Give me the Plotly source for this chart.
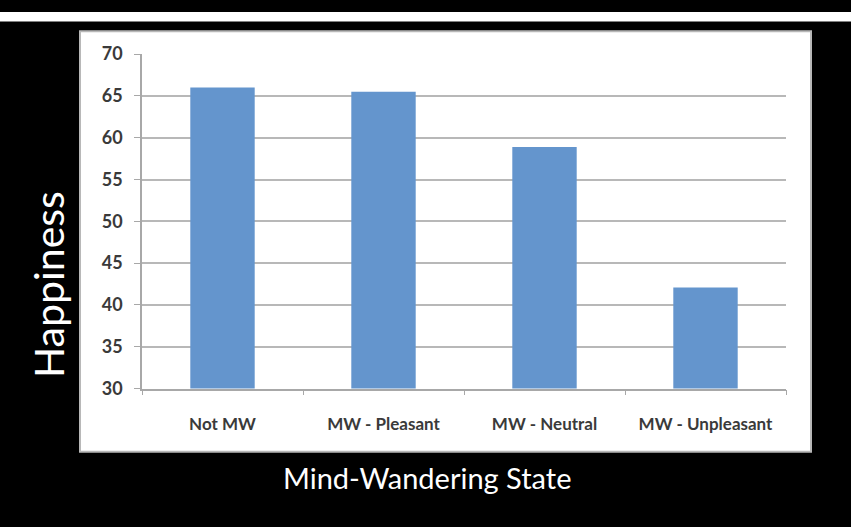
import plotly.graph_objects as go

categories = ["Not MW", "MW - Pleasant", "MW - Neutral", "MW - Unpleasant"]
happiness = [66.0, 65.5, 58.9, 42.1]
y_ticks = [30, 35, 40, 45, 50, 55, 60, 65, 70]

W, H = 851, 527

def px(x):
    return x / W

def py(y):
    return (H - y) / H

fig = go.Figure(go.Bar(
    x=categories, y=happiness,
    marker=dict(color="#6495cd", line=dict(width=0)),
    width=0.4,
))

shapes = [
    # thin white strip at the top edge of the screenshot
    dict(type="rect", xref="paper", yref="paper", x0=0, x1=1, y0=py(10), y1=1,
         fillcolor="white", line=dict(width=0), layer="below"),
    # white chart panel
    dict(type="rect", xref="paper", yref="paper", x0=px(80), x1=px(811), y0=py(459), y1=py(20),
         fillcolor="white", line=dict(color="#b8b8b8", width=2), layer="below"),
]

fig.update_layout(
    width=W, height=H,
    margin=dict(l=0, r=0, t=0, b=0),
    paper_bgcolor="black",
    plot_bgcolor="white",
    showlegend=False,
    bargap=0.6,
    shapes=shapes,
    xaxis=dict(
        domain=[px(142), px(786)],
        type="category",
        showgrid=False,
        showline=True, linecolor="#a8a8a8", linewidth=1.5,
        ticks="outside", ticklen=5, tickcolor="#a8a8a8", tickwidth=1,
        tickson="boundaries",
        tickfont=dict(family="Lato", size=17, color="#3a3a3a", weight="bold"),
        ticklabelstandoff=19,
    ),
    yaxis=dict(
        domain=[py(393), py(44)],
        range=[30, 70],
        tickvals=y_ticks,
        showgrid=True, gridcolor="#b8b8b8", gridwidth=1.5,
        showline=True, linecolor="#a8a8a8", linewidth=1.5,
        ticks="outside", ticklen=6, tickcolor="#a8a8a8", tickwidth=1,
        tickfont=dict(family="Lato", size=18, color="#3a3a3a", weight="bold"),
        ticklabelstandoff=8,
        zeroline=False,
    ),
    annotations=[
        dict(text="Happiness", xref="paper", yref="paper", x=px(48), y=py(285),
             showarrow=False, textangle=-90, xanchor="center", yanchor="middle",
             font=dict(family="Lato", size=41, color="white")),
        dict(text="Mind-Wandering State", xref="paper", yref="paper", x=px(427), y=py(486),
             showarrow=False, xanchor="center", yanchor="middle",
             font=dict(family="Lato", size=29, color="white")),
    ],
)

fig.write_html("out.html")
